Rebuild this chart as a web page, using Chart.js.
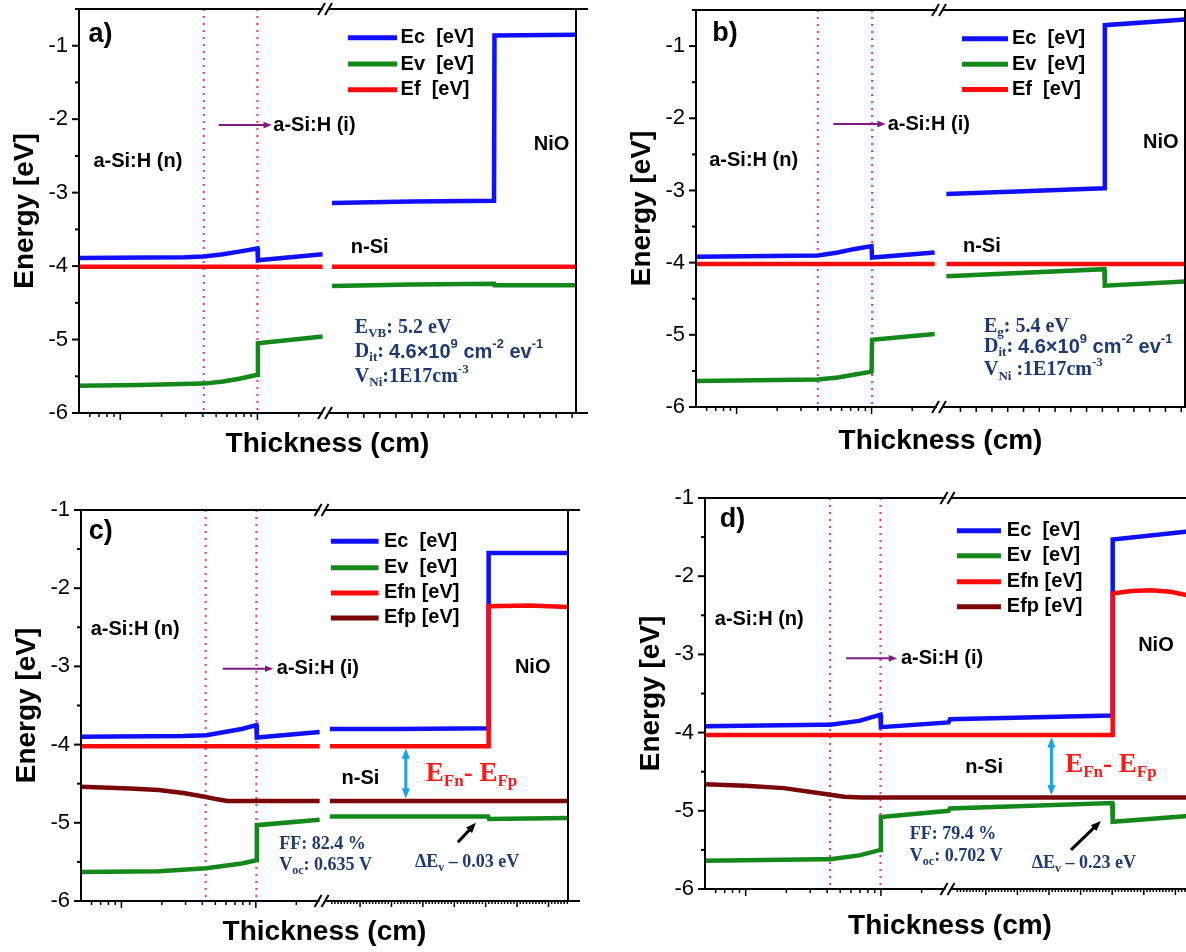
<!DOCTYPE html>
<html>
<head>
<meta charset="utf-8">
<script src="https://cdn.jsdelivr.net/npm/chart.js@4.4.0/dist/chart.umd.min.js"></script>
<style>
  html, body { margin: 0; padding: 0; background: #fff; overflow: hidden; width: 1186px; height: 952px; position: relative; }
  canvas { position: absolute; }
</style>
</head>
<body>
<canvas id="ca"></canvas>
<canvas id="cb"></canvas>
<canvas id="cc"></canvas>
<canvas id="cd"></canvas>
<script>
// x is position along the (broken) thickness axis, 0..100 of the plot width
// ===== DATA =====
const legendAB = ["Ec  [eV]", "Ev  [eV]", "Ef  [eV]"];
const legendCD = ["Ec  [eV]", "Ev  [eV]", "Efn [eV]", "Efp [eV]"];

// a)
const aEc = [[0,-3.89],[21.3,-3.88],[25.1,-3.87],[29,-3.84],[32.5,-3.80],[35.9,-3.76],[36.0,-3.92],[49.0,-3.84],[50,null],[50.9,-3.14],[67,-3.12],[83.5,-3.11],[83.6,-0.86],[100,-0.85]];
const aEv = [[0,-5.63],[12,-5.62],[25.1,-5.60],[29,-5.57],[32.5,-5.53],[35.9,-5.48],[36.0,-5.05],[49.0,-4.96],[50,null],[50.9,-4.27],[67,-4.25],[83.5,-4.24],[83.6,-4.26],[100,-4.26]];
const aEf = [[0,-4.01],[49.0,-4.01],[50,null],[50.9,-4.01],[100,-4.01]];

// b)
const bEc = [[0,-3.92],[24.9,-3.90],[29,-3.86],[32.5,-3.81],[35.9,-3.77],[36.0,-3.93],[48.8,-3.86],[50,null],[51.2,-3.05],[67,-3.01],[83.5,-2.97],[83.6,-0.71],[100,-0.63]];
const bEv = [[0,-5.64],[24.9,-5.62],[29,-5.59],[32.5,-5.55],[35.9,-5.51],[36.0,-5.07],[48.8,-4.99],[50,null],[51.2,-4.19],[83.5,-4.09],[83.6,-4.32],[100,-4.26]];
const bEf = [[0,-4.02],[48.8,-4.02],[50,null],[51.2,-4.02],[100,-4.02]];

// c)
const cEc = [[0,-3.90],[21,-3.89],[25.7,-3.88],[29.5,-3.84],[33,-3.80],[36.0,-3.75],[36.1,-3.91],[49.0,-3.84],[50,null],[51.1,-3.80],[65,-3.80],[83.6,-3.79],[83.7,-1.55],[100,-1.55]];
const cEv = [[0,-5.63],[16,-5.62],[25.7,-5.58],[29.5,-5.55],[33,-5.52],[36.0,-5.48],[36.1,-5.03],[49.0,-4.96],[50,null],[51.1,-4.92],[83.6,-4.92],[83.8,-4.95],[100,-4.94]];
const cEfn = [[0,-4.02],[49.0,-4.02],[50,null],[51.1,-4.02],[83.7,-4.02],[83.7,-2.23],[92,-2.22],[100,-2.24]];
const cEfp = [[0,-4.54],[10,-4.56],[16,-4.58],[21,-4.62],[25.7,-4.67],[28,-4.70],[30,-4.72],[49.0,-4.72],[50,null],[51.1,-4.72],[100,-4.72]];

// d)
const dEc = [[0,-3.92],[23.8,-3.90],[25.5,-3.90],[31.5,-3.85],[35.8,-3.77],[35.9,-3.93],[49.7,-3.87],[50.0,-3.83],[83.1,-3.78],[83.2,-1.53],[100,-1.42]];
const dEv = [[0,-5.64],[23.8,-5.62],[25.5,-5.62],[31.5,-5.57],[35.8,-5.50],[35.9,-5.08],[49.7,-5.00],[50.0,-4.97],[83.1,-4.90],[83.2,-5.14],[100,-5.06]];
const dEfn = [[0,-4.03],[83.2,-4.03],[83.2,-2.22],[87,-2.19],[91,-2.18],[95,-2.20],[98.2,-2.24],[100,-2.27]];
const dEfp = [[0,-4.66],[8.3,-4.68],[16.1,-4.71],[23.8,-4.78],[28.4,-4.82],[32,-4.83],[100,-4.83]];

const seriesColors = ["#1010ff", "#14881a", "#ff0a0a", "#7a0808"];

// ===== PANEL LAYOUT =====
const SANS = 'Arial, "Liberation Sans", sans-serif';
const SERIF = '"Times New Roman", "Liberation Serif", serif';

// text parts: [text, mode] 0 serif, 1 serif sub, 2 serif sup, 3 sans, 4 sans sup
const ditLine = [["D",0],["it",1],[": ",0],["4.6×10",3],["9",4],[" cm",3],["-2",4],[" ev",3],["-1",4]];

const panels = {
  ca: {
    pos: [0, -7, 588, 470], yw: 79, pt: 16, pr: 12, xh: 50, ymax: -0.5,
    series: [aEc, aEv, aEf], legend: legendAB, brk: 49.7, gap: true, rightBorder: true, dense: false,
    dotted: [25.1, 35.9], tag: ["a)", 1.9, -0.85],
    leg: [54.1, 64.0, 64.7, [-0.89, -1.25, -1.60]],
    nio: [91.5, -2.35], arrowI: [28.1, 38.8, -2.08, 39.1], aSiN: [2.9, -2.58], nSi: [54.7, -3.75],
    box: [55.5, [-4.84, -5.17, -5.51], 20, [
      [["E",0],["VB",1],[": 5.2 eV",0]],
      ditLine,
      [["V",0],["Ni",1],[":1E17cm",0],["-3",2]]]]
  },
  cb: {
    pos: [617, -6, 580, 466], yw: 79, pt: 16, pr: 12, xh: 53, ymax: -0.5,
    series: [bEc, bEv, bEf], legend: legendAB, brk: 49.9, gap: true, rightBorder: true, dense: false,
    dotted: [24.9, 36.0], tag: ["b)", 3.3, -0.82],
    leg: [54.4, 63.8, 64.6, [-0.90, -1.25, -1.60]],
    nio: [91.4, -2.34], arrowI: [28.1, 38.8, -2.08, 39.2], aSiN: [2.7, -2.59], nSi: [54.6, -3.78],
    box: [58.9, [-4.89, -5.17, -5.49], 20, [
      [["E",0],["g",1],[": 5.4 eV",0]],
      ditLine,
      [["V",0],["Ni",1],[" :1E17cm",0],["-3",2]]]]
  },
  cc: {
    pos: [2, 494, 578, 457], yw: 79, pt: 16, pr: 12, xh: 50, ymax: -1,
    series: [cEc, cEv, cEfn, cEfp], legend: legendCD, brk: 49.6, gap: true, rightBorder: true, dense: true,
    dotted: [25.6, 36.0], tag: ["c)", 1.6, -1.28],
    leg: [51.3, 61.1, 62.2, [-1.40, -1.74, -2.06, -2.38]],
    nio: [89.1, -3.01], arrowI: [29.1, 39.5, -3.03, 40.2], aSiN: [2.0, -2.53], nSi: [53.5, -4.43],
    efnp: [70.8, -4.37], dbl: [66.7, -4.05, -4.69],
    box: [40.7, [-5.28, -5.54], 18, [
      [["FF: 82.4 %",0]],
      [["V",0],["oc",1],[": 0.635 V",0]]]],
    dEv: [68.6, -5.51, " – 0.03 eV"], blk: [77.4, -5.25, 81.1, -5.00]
  },
  cd: {
    pos: [626, 482, 581, 463], yw: 79, pt: 16, pr: 12, xh: 56, ymax: -1,
    series: [dEc, dEv, dEfn, dEfp], legend: legendCD, brk: 49.7, gap: false, rightBorder: false, dense: true,
    dotted: [25.5, 35.8], tag: ["d)", 3.0, -1.28],
    leg: [51.4, 60.4, 61.6, [-1.42, -1.74, -2.07, -2.39]],
    nio: [88.4, -2.88], arrowI: [28.8, 39.2, -3.05, 40.0], aSiN: [2.0, -2.55], nSi: [53.1, -4.45],
    efnp: [73.5, -4.41], dbl: [70.7, -4.06, -4.80],
    box: [41.8, [-5.30, -5.58], 18, [
      [["FF: 79.4 %",0]],
      [["V",0],["oc",1],[": 0.702 V",0]]]],
    dEv: [66.7, -5.67, " – 0.23 eV"], blk: [74.7, -5.50, 80.8, -5.13]
  }
};

// ===== DRAW HELPERS =====
function seg(ctx, x1, y1, x2, y2) {
  ctx.beginPath(); ctx.moveTo(x1, y1); ctx.lineTo(x2, y2); ctx.stroke();
}

function head(ctx, x, y, ang, size) {
  ctx.beginPath();
  ctx.moveTo(x, y);
  ctx.lineTo(x - size * Math.cos(ang - 0.38), y - size * Math.sin(ang - 0.38));
  ctx.lineTo(x - size * Math.cos(ang + 0.38), y - size * Math.sin(ang + 0.38));
  ctx.closePath();
  ctx.fill();
}

function arrow(ctx, x1, y1, x2, y2, color, w, size, both) {
  ctx.save();
  ctx.strokeStyle = color; ctx.fillStyle = color; ctx.lineWidth = w;
  const a = Math.atan2(y2 - y1, x2 - x1);
  const sx = both ? x1 + Math.cos(a) * size * 0.7 : x1;
  const sy = both ? y1 + Math.sin(a) * size * 0.7 : y1;
  seg(ctx, sx, sy, x2 - Math.cos(a) * size * 0.7, y2 - Math.sin(a) * size * 0.7);
  head(ctx, x2, y2, a, size);
  if (both) head(ctx, x1, y1, a + Math.PI, size);
  ctx.restore();
}

function rich(ctx, parts, x, y, size, color) {
  let cx = x;
  ctx.fillStyle = color;
  ctx.textAlign = "left";
  ctx.textBaseline = "middle";
  parts.forEach(([t, m]) => {
    const small = m === 1 || m === 2 || m === 4;
    const fs = small ? Math.round(size * 0.64) : size;
    const fam = m >= 3 ? SANS : SERIF;
    ctx.font = `bold ${fs}px ${fam}`;
    const dy = m === 1 ? size * 0.3 : (m === 2 || m === 4) ? -size * 0.36 : 0;
    ctx.fillText(t, cx, y + dy);
    cx += ctx.measureText(t).width;
  });
}

function label(ctx, t, x, y, size) {
  ctx.fillStyle = "#000";
  ctx.textAlign = "left";
  ctx.textBaseline = "middle";
  ctx.font = `bold ${size}px ${SANS}`;
  ctx.fillText(t, x, y);
}

// ===== PLUGIN =====
const figurePlugin = {
  id: "figure",
  beforeDatasetsDraw(chart) {
    const p = panels[chart.canvas.id];
    const ctx = chart.ctx;
    const { top, bottom } = chart.chartArea;
    ctx.save();
    ctx.strokeStyle = "#ff2a8a";
    ctx.lineWidth = 2;
    ctx.setLineDash([2, 5]);
    p.dotted.forEach((u) => {
      const x = chart.scales.x.getPixelForValue(u);
      seg(ctx, x, top, x, bottom);
    });
    ctx.restore();
  },
  afterDatasetsDraw(chart) {
    const p = panels[chart.canvas.id];
    const ctx = chart.ctx;
    const sx = chart.scales.x, sy = chart.scales.y;
    const X = (u) => sx.getPixelForValue(u);
    const Y = (v) => sy.getPixelForValue(v);
    const { left, right, top, bottom } = chart.chartArea;
    const bx = X(p.brk);

    ctx.save();
    ctx.strokeStyle = "#000";
    ctx.lineCap = "square";
    ctx.lineWidth = 2;
    // frame
    seg(ctx, left, top, left, bottom);
    if (p.rightBorder) seg(ctx, right, top, right, bottom);
    [top, bottom].forEach((y) => {
      seg(ctx, left, y, bx - 4, y);
      seg(ctx, bx + 4, y, right + 20, y);
      ctx.save();
      ctx.lineCap = "butt";
      seg(ctx, bx - 8, y + 6, bx - 1, y - 6);
      seg(ctx, bx - 1, y + 6, bx + 6, y - 6);
      ctx.restore();
    });
    // y ticks (outward)
    for (let v = -6; v <= p.ymax + 1e-6; v += 0.5) {
      const len = Number.isInteger(v) ? 6 : 3;
      seg(ctx, left - len, Y(v), left, Y(v));
    }
    // x ticks: log part left of break
    ctx.lineWidth = 1.5;
    ctx.lineCap = "butt";
    const logMajor = 8.3, decade = 27.6;
    for (let k = -1; k <= 1; k++) {
      for (let m = 1; m <= 9; m++) {
        const u = logMajor + k * decade + Math.log10(m) * decade;
        if (u < 0.5 || u > p.brk - 1.5) continue;
        const len = m === 1 ? 7 : 4;
        seg(ctx, X(u), bottom, X(u), bottom + len);
      }
    }
    // x ticks: linear part right of break
    const step = 6.45, start = 50.85;
    const sub = p.dense ? 10 : 2;
    for (let i = 1; i <= 9 * sub; i++) {
      const u = start + (i * step) / sub;
      if (u > 100) break;
      if (u < p.brk + 1.2) continue;
      const major = i % sub === 0;
      const len = p.dense ? (major ? 6 : 3) : 5;
      seg(ctx, X(u), bottom, X(u), bottom + len);
    }
    ctx.restore();

    ctx.save();
    // panel tag
    ctx.fillStyle = "#000";
    ctx.textBaseline = "middle";
    ctx.font = `bold 27px ${SANS}`;
    ctx.fillText(p.tag[0], X(p.tag[1]), Y(p.tag[2]));

    // legend
    const [lx1, lx2, tx, ys] = p.leg;
    ys.forEach((v, i) => {
      ctx.strokeStyle = seriesColors[i];
      ctx.lineWidth = 5;
      ctx.lineCap = "butt";
      seg(ctx, X(lx1), Y(v), X(lx2), Y(v));
      label(ctx, p.legend[i], X(tx), Y(v), 20);
    });

    // region labels
    label(ctx, "NiO", X(p.nio[0]), Y(p.nio[1]), 20);
    label(ctx, "a-Si:H (n)", X(p.aSiN[0]), Y(p.aSiN[1]), 20);
    label(ctx, "n-Si", X(p.nSi[0]), Y(p.nSi[1]), 20);
    const [ax1, ax2, ay, atx] = p.arrowI;
    arrow(ctx, X(ax1), Y(ay), X(ax2), Y(ay), "#7e1a80", 2, 9, false);
    label(ctx, "a-Si:H (i)", X(atx), Y(ay), 20);

    // parameter box
    const [bxu, bys, bsize, lines] = p.box;
    lines.forEach((parts, i) => rich(ctx, parts, X(bxu), Y(bys[i]), bsize, "#1f3a72"));

    if (p.efnp) {
      rich(ctx, [["E",0],["Fn",1],["- E",0],["Fp",1]], X(p.efnp[0]), Y(p.efnp[1]), 27, "#ff1a1a");
      arrow(ctx, X(p.dbl[0]), Y(p.dbl[1]), X(p.dbl[0]), Y(p.dbl[2]), "#1aa3e8", 3, 11, true);
      rich(ctx, [["ΔE",0],["v",1],[p.dEv[2],0]], X(p.dEv[0]), Y(p.dEv[1]), 18, "#1f3a72");
      arrow(ctx, X(p.blk[0]), Y(p.blk[1]), X(p.blk[2]), Y(p.blk[3]), "#000", 3, 11, false);
    }
    ctx.restore();
  }
};

// ===== BUILD CHARTS =====
Object.keys(panels).forEach((id) => {
  const p = panels[id];
  const canvas = document.getElementById(id);
  canvas.width = p.pos[2];
  canvas.height = p.pos[3];
  canvas.style.left = p.pos[0] + "px";
  canvas.style.top = p.pos[1] + "px";

  // lower order is drawn on top, so the Fermi levels cover the band edges
  const datasets = p.series.map((pts, i) => ({
    label: p.legend[i],
    data: pts.map(([x, y]) => ({ x: x, y: y })),
    borderColor: seriesColors[i],
    borderWidth: 4.5,
    pointRadius: 0,
    fill: false,
    tension: 0,
    spanGaps: false,
    borderJoinStyle: "miter",
    order: p.series.length - i
  }));

  new Chart(canvas, {
    type: "line",
    data: { datasets: datasets },
    options: {
      responsive: false,
      animation: false,
      events: [],
      layout: { padding: { top: p.pt, right: p.pr, left: 0, bottom: 0 } },
      plugins: { legend: { display: false }, tooltip: { enabled: false } },
      scales: {
        x: {
          type: "linear",
          min: 0,
          max: 100,
          grid: { display: false, drawTicks: false },
          border: { display: false },
          ticks: { display: false },
          title: {
            display: true,
            text: "Thickness (cm)",
            color: "#000",
            font: { family: SANS, size: 28, weight: "bold" },
            padding: { top: 0, bottom: 2 }
          },
          afterFit(s) { s.height = p.xh; s.paddingLeft = 0; s.paddingRight = 0; }
        },
        y: {
          type: "linear",
          min: -6,
          max: p.ymax,
          grid: { display: false, drawTicks: true, tickLength: 6 },
          border: { display: false },
          ticks: {
            stepSize: 1,
            padding: 5,
            color: "#000",
            font: { family: SANS, size: 22 },
            callback: (v) => String(v)
          },
          afterBuildTicks(s) { s.ticks = s.ticks.filter((t) => Number.isInteger(t.value)); },
          title: {
            display: true,
            text: "Energy [eV]",
            color: "#000",
            font: { family: SANS, size: 28, weight: "bold" },
            padding: { top: 8, bottom: 0 }
          },
          afterFit(s) { s.width = p.yw; s.paddingTop = 0; s.paddingBottom = 0; }
        }
      }
    },
    plugins: [figurePlugin]
  });
});
</script>
</body>
</html>
